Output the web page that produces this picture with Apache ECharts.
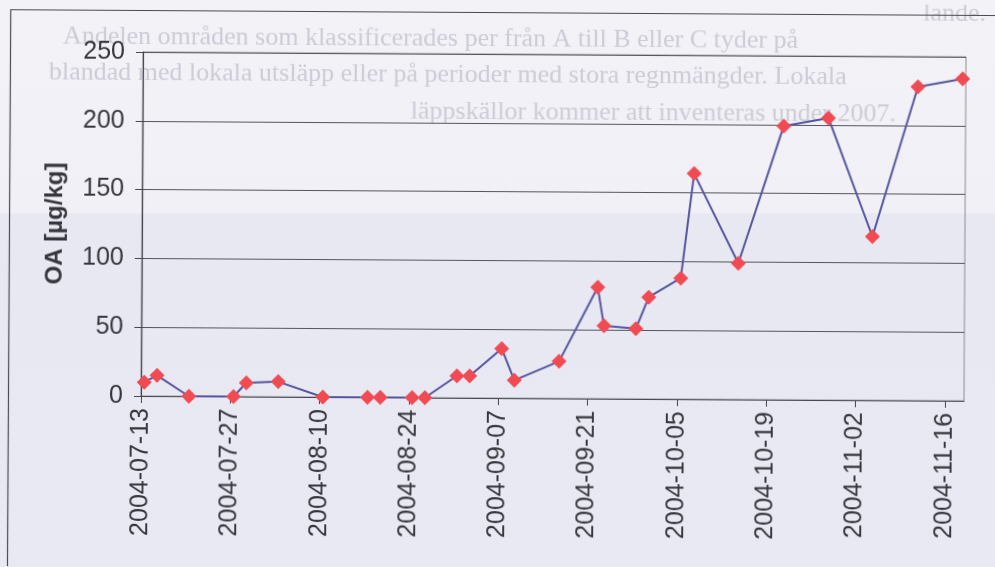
<!DOCTYPE html>
<html>
<head>
<meta charset="utf-8">
<script src="https://cdn.jsdelivr.net/npm/echarts@6/dist/echarts.min.js"></script>
<style>
html, body { margin: 0; padding: 0; overflow: hidden; }
body { background: linear-gradient(#f3f2f7 0, #f1f0f6 213px, #e8e8f3 214px, #e9e9f3 567px); }
#chart { width: 995px; height: 567px; transform: rotate(0.34deg); transform-origin: 142px 224px; }
</style>
</head>
<body>
<div id="chart"></div>
<script>
// OA-halter per provdatum
var startDate = '2004-07-13';
var dates = ['2004-07-13', '2004-07-15', '2004-07-20', '2004-07-27', '2004-07-29', '2004-08-03',
	'2004-08-10', '2004-08-17', '2004-08-19', '2004-08-24', '2004-08-26', '2004-08-31',
	'2004-09-02', '2004-09-07', '2004-09-09', '2004-09-16', '2004-09-22', '2004-09-23',
	'2004-09-28', '2004-09-30', '2004-10-05', '2004-10-07', '2004-10-14', '2004-10-21',
	'2004-10-28', '2004-11-04', '2004-11-11', '2004-11-18'];
var values = [10, 15, 0, 0, 10, 11, 0, 0, 0, 0, 0, 16, 16, 36, 13, 27, 81, 53, 51, 74, 88, 164, 99, 199, 205, 119, 228, 234];
var yTicks = [0, 50, 100, 150, 200, 250];
var pageText = [
	'lande.',
	'Andelen områden som klassificerades per från A till B eller C tyder på',
	'blandad med lokala utsläpp eller på perioder med stora regnmängder. Lokala',
	'läppskällor kommer att inventeras under 2007.'
];

var DAY = 86400000;
var t0 = Date.parse(startDate);
function dayOf(d) {
	return Math.round((Date.parse(d) - t0) / DAY);
}
function dateLabel(v) {
	var d = new Date(t0 + v * DAY);
	var m = d.getUTCMonth() + 1, dd = d.getUTCDate();
	return d.getUTCFullYear() + '-' + (m < 10 ? '0' + m : m) + '-' + (dd < 10 ? '0' + dd : dd);
}

var points = dates.map(function(d, i) {
	return [dayOf(d) + 0.5, values[i]]; // punkter mitt på dagen
});

var chart = echarts.init(document.getElementById('chart'));
var font = 'Liberation Sans, Arial, sans-serif';
var bgFont = '26px Liberation Serif, serif';
var bgInk = '#cdcbd6';
var option = {
	backgroundColor: 'transparent',
	animation: false,
	graphic: [{
		type: 'group',
		silent: true,
		z: -10,
		children: [
			{ type: 'text', x: 922, y: -4, style: { text: pageText[0], font: bgFont, fill: bgInk } },
			{ type: 'text', x: 62, y: 24, style: { text: pageText[1], font: bgFont, fill: bgInk } },
			{ type: 'text', x: 48, y: 60, style: { text: pageText[2], font: bgFont, fill: bgInk } },
			{ type: 'text', x: 410, y: 97, style: { text: pageText[3], font: bgFont, fill: bgInk } }
		]
	}, {
		type: 'polyline',
		silent: true,
		shape: { points: [[9.5, 567], [9.5, 10.5], [1000, 10.5]] },
		style: { stroke: '#4a4a50', lineWidth: 1.2, fill: null }
	}],
	grid: {
		left: 142,
		right: 30,
		top: 52,
		bottom: 171,
		show: true,
		borderColor: '#8c8c92',
		borderWidth: 1
	},
	xAxis: {
		type: 'value',
		min: 0,
		max: 129,
		interval: 14,
		axisLine: { show: true, lineStyle: { color: '#46464c', width: 1.2 } },
		axisTick: { show: true, inside: false, length: 7, lineStyle: { color: '#46464c' } },
		splitLine: { show: false },
		axisLabel: {
			rotate: 90,
			margin: 12,
			fontFamily: font,
			fontSize: 25,
			color: '#36363c',
			showMaxLabel: false,
			formatter: dateLabel
		}
	},
	yAxis: {
		type: 'value',
		min: yTicks[0],
		max: yTicks[yTicks.length - 1],
		interval: 50,
		name: 'OA [µg/kg]',
		nameLocation: 'middle',
		nameGap: 75,
		nameTextStyle: { fontFamily: font, fontSize: 24, fontWeight: 'bold', color: '#36363c' },
		axisLine: { show: true, lineStyle: { color: '#46464c', width: 1.2 } },
		axisTick: { show: true, inside: false, length: 7, lineStyle: { color: '#46464c' } },
		splitLine: { show: true, lineStyle: { color: '#55555b', width: 1.2 } },
		axisLabel: { margin: 18, fontFamily: font, fontSize: 25, color: '#36363c' }
	},
	series: [{
		type: 'line',
		data: points,
		symbol: 'diamond',
		symbolSize: 15,
		lineStyle: { color: '#55559f', width: 2 },
		itemStyle: { color: '#f04b52', borderWidth: 0 }
	}]
};
chart.setOption(option);
</script>
</body>
</html>
